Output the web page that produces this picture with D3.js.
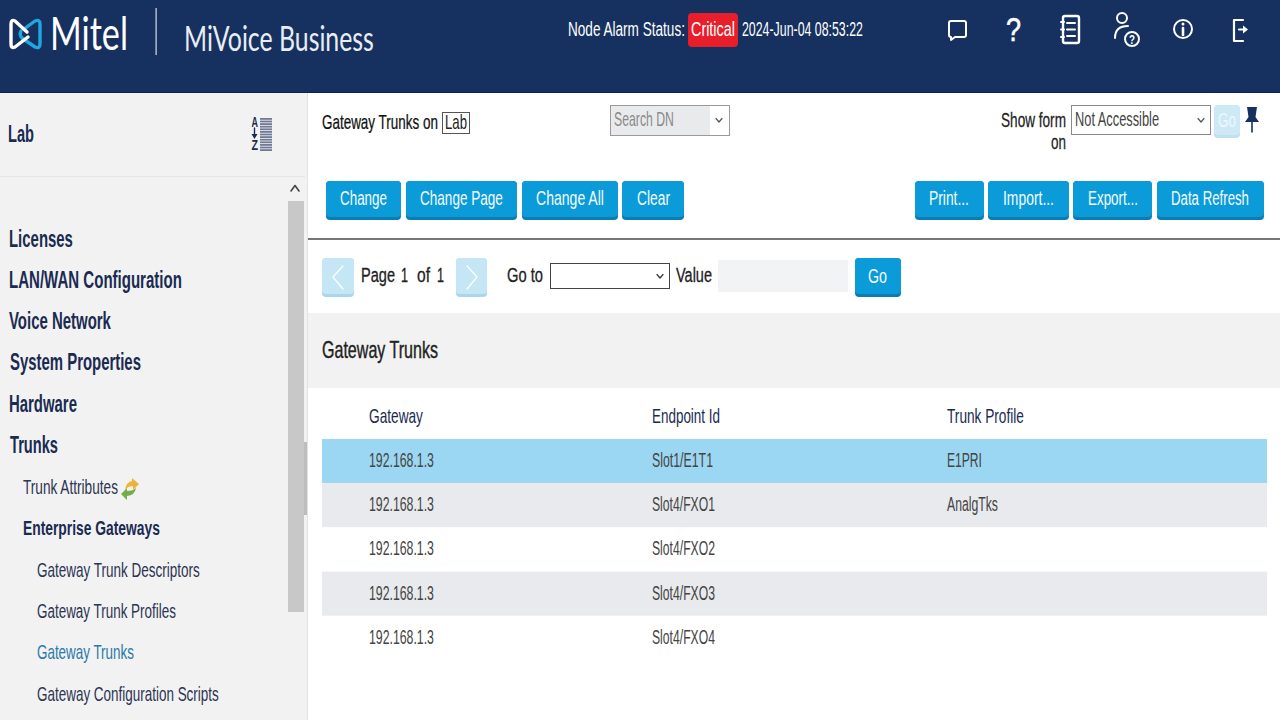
<!DOCTYPE html>
<html>
<head>
<meta charset="utf-8">
<title>MiVoice Business - Gateway Trunks</title>
<script src="https://cdn.jsdelivr.net/npm/d3@7"></script>
<style>
  html, body { margin: 0; padding: 0; background: #fff; overflow: hidden; }
  svg { display: block; }
  text { font-family: "Liberation Sans", Arial, sans-serif; }
</style>
</head>
<body>
<svg id="page"></svg>
<script>
// values
const navItems = ["Licenses", "LAN/WAN Configuration", "Voice Network", "System Properties", "Hardware", "Trunks",
  "Trunk Attributes", "Enterprise Gateways", "Gateway Trunk Descriptors", "Gateway Trunk Profiles", "Gateway Trunks", "Gateway Configuration Scripts"];
const tableColumns = ["Gateway", "Endpoint Id", "Trunk Profile"];
const gateways = ["192.168.1.3", "192.168.1.3", "192.168.1.3", "192.168.1.3", "192.168.1.3"];
const endpoints = ["Slot1/E1T1", "Slot4/FXO1", "Slot4/FXO2", "Slot4/FXO3", "Slot4/FXO4"];
const trunkProfiles = ["E1PRI", "AnalgTks", "", "", ""];
const leftButtons = ["Change", "Change Page", "Change All", "Clear"];
const rightButtons = ["Print...", "Import...", "Export...", "Data Refresh"];

// layout
const navLook = [
  [9, 64, 1], [9, 173, 1], [9, 102, 1], [10, 131, 1], [9, 68, 1], [10, 48, 1],
  [23, 95, 0], [23, 137, 1], [37, 163, 0], [37, 139, 0], [37, 97, 0], [37, 182, 0]
];
const buttonBoxes = [[326, 401, 340, 47], [406, 517, 420, 83], [522, 618, 536, 68], [622, 684, 637, 33],
  [915, 984, 929, 40], [988, 1069, 1003, 51], [1073, 1152, 1088, 50], [1157, 1264, 1171, 78]];
const cellWidths = {
  "192.168.1.3": 65, "Slot1/E1T1": 61, "Slot4/FXO1": 63, "Slot4/FXO2": 63, "Slot4/FXO3": 63, "Slot4/FXO4": 63,
  "E1PRI": 35, "AnalgTks": 51
};
const headerWidths = [54, 68, 77];

const navy = "#16315f", ink = "#1a2b52", blue = "#0b9bd8", blueDark = "#0a7db2";

const svg = d3.select("#page").attr("width", 1280).attr("height", 720).attr("viewBox", "0 0 1280 720");

// text is narrow and tall in the screenshot, so every label gets squeezed to its measured width
function label(parent, x, y, str, size, width, color, weight, family) {
  const t = parent.append("text")
    .attr("font-size", size)
    .attr("font-weight", weight || "normal")
    .attr("fill", color || "#222")
    .text(str);
  if (family) t.style("font-family", family);
  const natural = t.node().getComputedTextLength();
  t.attr("transform", `translate(${x},${y}) scale(${width / natural},1)`);
  return t;
}
function box(parent, x0, y0, x1, y1, fill, r) {
  return parent.append("rect")
    .attr("x", x0).attr("y", y0).attr("width", x1 - x0).attr("height", y1 - y0)
    .attr("rx", r || 0).attr("fill", fill);
}
function stroked(parent, d, color, w) {
  return parent.append("path").attr("d", d).attr("fill", "none")
    .attr("stroke", color).attr("stroke-width", w)
    .attr("stroke-linecap", "round").attr("stroke-linejoin", "round");
}
function ring(parent, cx, cy, r, w) {
  parent.append("circle").attr("cx", cx).attr("cy", cy).attr("r", r)
    .attr("fill", "none").attr("stroke", "#fff").attr("stroke-width", w);
}
function button(parent, x0, y0, x1, y1, top, bottom) {
  box(parent, x0, y0, x1, y1, bottom, 4);
  box(parent, x0, y0, x1, y1 - 3, top, 4);
}
function chevron(parent, cx, cy, color) {
  stroked(parent, `M${cx - 3},${cy - 1.5}L${cx},${cy + 2}L${cx + 3},${cy - 1.5}`, color || "#555", 1.2);
}

// header bar
const header = svg.append("g");
box(header, 0, 0, 1280, 93, navy);
box(header, 0, 92, 1280, 93, "#0f2448");

// logo knot
stroked(header, "M21,31Q19,35 22,38L35,47Q40,49 40,44V24Q40,19 35,21L24,29", "#1ea7e0", 3.4);
stroked(header, "M27,32L15,21Q11,19 11,24V44Q11,49 15,47L28,37", "#fff", 3.4);
label(header, 50, 50, "Mitel", 47, 78, "#fff", "400", "Lato");
box(header, 155.5, 8, 156.7, 55, "#d8dde6");
label(header, 184, 51, "MiVoice Business", 34, 190, "#e9edf3", "400", "Lato");

label(header, 568, 36, "Node Alarm Status:", 19.5, 117, "#fff");
box(header, 688, 13, 738, 47, "#e81f2b", 4);
label(header, 691, 36, "Critical", 19.5, 44, "#fff");
label(header, 742, 36, "2024-Jun-04 08:53:22", 19.5, 121, "#fff");

// header icons
stroked(header, "M951,21H964Q966,21 966,23V35Q966,37 964,37H955L951,40V37Q949,37 949,35V23Q949,21 951,21Z", "#fff", 2);
label(header, 1006, 41, "?", 34, 15, "#fff", "normal").attr("stroke", "#fff").attr("stroke-width", 0.6);
stroked(header, "M1065,16H1077Q1079,16 1079,18V41Q1079,43 1077,43H1065Q1063,43 1063,41V18Q1063,16 1065,16Z", "#fff", 2.4);
stroked(header, "M1067,23H1075M1067,29.5H1075M1067,36H1075M1061,22H1064M1061,29.5H1064M1061,37H1064", "#fff", 2);
ring(header, 1122, 18, 5, 2);
stroked(header, "M1115,38C1115,30 1119,26 1128,26", "#fff", 2);
ring(header, 1132, 39, 7, 2);
label(header, 1129, 43.5, "?", 12, 6, "#fff", "bold");
ring(header, 1183, 29, 9, 2);
stroked(header, "M1183,28V35", "#fff", 2.6);
header.append("circle").attr("cx", 1183).attr("cy", 24).attr("r", 1.5).attr("fill", "#fff");
stroked(header, "M1243,20H1234V41H1243", "#fff", 2.2);
stroked(header, "M1239,29.5H1245", "#fff", 2.2);
header.append("path").attr("d", "M1243,25.5L1248,29.5L1243,33.5Z").attr("fill", "#fff");

// sidebar
const side = svg.append("g");
box(side, 0, 93, 307, 720, "#f2f2f2");
box(side, 0, 176, 305, 177, "#e5e5e5");
box(side, 307, 93, 308, 720, "#e3e3e3");
label(side, 8, 142, "Lab", 23, 26, ink, "bold");

// A-Z sort icon
label(side, 251.5, 127, "A", 14, 6.5, ink, "bold");
label(side, 251.5, 150, "Z", 14, 6.5, ink, "bold");
stroked(side, "M254.5,128V135", ink, 1.4);
side.append("path").attr("d", "M251.5,134H257.5L254.5,139Z").attr("fill", ink);
d3.range(118, 150, 2.6).forEach(y => box(side, 260, y, 272, y + 1.8, "#6f7b96"));

// sidebar scrollbar
stroked(side, "M291,191L295,185.5L299,191", "#444", 1.6);
box(side, 288, 201, 304, 612, "#c8c8c8");
box(side, 304, 442, 307, 515, "#bdbdbd");

const navY = d3.scaleLinear().domain([0, navItems.length - 1]).range([246.5, 700.5]);
navItems.forEach((name, i) => {
  const [x, w, strong] = navLook[i];
  const top = i < 6;
  const color = name === "Gateway Trunks" ? "#2b79a8" : (strong ? ink : "#2c3553");
  label(side, x, navY(i), name, top ? 23 : 20, w, color, strong ? "bold" : "normal");
});

// two-arrow icon after Trunk Attributes
side.append("path").attr("d", "M127,500L121,494L127,488V491Q133,491 136,488Q135,495 127,496Z").attr("fill", "#74ad4a");
side.append("path").attr("d", "M132,478L139,484L133,490V486Q128,486 125,490Q126,482 132,481Z").attr("fill", "#eeb436");

// form top row
const content = svg.append("g");
label(content, 322, 129, "Gateway Trunks on", 20, 116, "#111").attr("stroke", "#111").attr("stroke-width", 0.25);
content.append("rect").attr("x", 442.5).attr("y", 112.5).attr("width", 27).attr("height", 21)
  .attr("fill", "#fff").attr("stroke", "#555");
label(content, 445, 129, "Lab", 20, 22, "#222");

content.append("rect").attr("x", 610.5).attr("y", 105.5).attr("width", 119).attr("height", 30)
  .attr("fill", "#fff").attr("stroke", "#9a9a9a");
box(content, 611, 106, 710, 135, "#e9eaec");
label(content, 614, 126, "Search DN", 20, 60, "#8a8a8a");
chevron(content, 719, 120);

label(content, 1001, 127, "Show form", 20, 65, "#222").attr("stroke", "#222").attr("stroke-width", 0.25);
label(content, 1051, 149, "on", 20, 15, "#222").attr("stroke", "#222").attr("stroke-width", 0.25);
content.append("rect").attr("x", 1071.5).attr("y", 105.5).attr("width", 139).attr("height", 29)
  .attr("fill", "#fff").attr("stroke", "#8a8a8a");
label(content, 1075, 126, "Not Accessible", 20, 84, "#444");
chevron(content, 1201, 120);
button(content, 1214, 105, 1240, 138, "#cde9f6", "#bfe0f0");
label(content, 1218, 127, "Go", 20, 18, "#eef8fc");

// pin
content.append("path").attr("d", "M1247,107H1257L1255.5,117L1259,122H1245L1248.5,117Z").attr("fill", navy);
stroked(content, "M1252,122V132", navy, 1.6);

// action buttons
leftButtons.concat(rightButtons).forEach((name, i) => {
  const [x0, x1, tx, tw] = buttonBoxes[i];
  button(content, x0, 181, x1, 220, blue, blueDark);
  label(content, tx, 205, name, 21, tw, "#f4fbff");
});
box(content, 308, 238, 1280, 240, "#777");

// pager
const pagerText = (x, str, w) => label(content, x, 282, str, 20, w, "#222").attr("stroke", "#222").attr("stroke-width", 0.3);
button(content, 322, 258, 354, 297, "#c5e6f5", "#a9d6eb");
stroked(content, "M343,266L333,277L343,289", "#fff", 1.2);
pagerText(361, "Page", 34);
pagerText(401, "1", 7);
pagerText(417, "of", 13);
pagerText(437, "1", 7);
button(content, 456, 258, 487, 297, "#c5e6f5", "#a9d6eb");
stroked(content, "M467,266L477,277L467,289", "#fff", 1.2);
pagerText(507, "Go to", 36);
content.append("rect").attr("x", 550.5).attr("y", 263.5).attr("width", 119).attr("height", 25)
  .attr("fill", "#fff").attr("stroke", "#444");
chevron(content, 660, 276, "#333");
pagerText(676, "Value", 36);
box(content, 718, 260, 848, 292, "#f2f3f4");
button(content, 855, 258, 901, 297, blue, blueDark);
label(content, 868, 283, "Go", 21, 19, "#f4fbff");

// section banner
box(content, 308, 313, 1280, 388, "#f2f2f2");
label(content, 322, 357.5, "Gateway Trunks", 23, 116, "#222").attr("stroke", "#222").attr("stroke-width", 0.4);

// table
const columnX = d3.scaleOrdinal().domain(tableColumns).range([369, 652, 947]);
const rowY = d3.scaleBand().domain(d3.range(gateways.length)).range([439, 660]);
const rows = gateways.map((g, i) => [g, endpoints[i], trunkProfiles[i]]);

tableColumns.forEach((c, i) => {
  label(content, columnX(c), 423, c, 20.5, headerWidths[i], ink);
});

const rowFill = i => i === 0 ? "#9bd7f3" : (i % 2 ? "#e8eaee" : "#fff");
content.selectAll("rect.row").data(rows).enter().append("rect")
  .attr("class", "row")
  .attr("x", 322).attr("width", 945)
  .attr("y", (d, i) => rowY(i))
  .attr("height", rowY.bandwidth())
  .attr("fill", (d, i) => rowFill(i));

rows.forEach((row, i) => {
  row.forEach((cell, j) => {
    if (cell) label(content, columnX(tableColumns[j]), rowY(i) + 28, cell, 20, cellWidths[cell], "#444");
  });
});
</script>
</body>
</html>
